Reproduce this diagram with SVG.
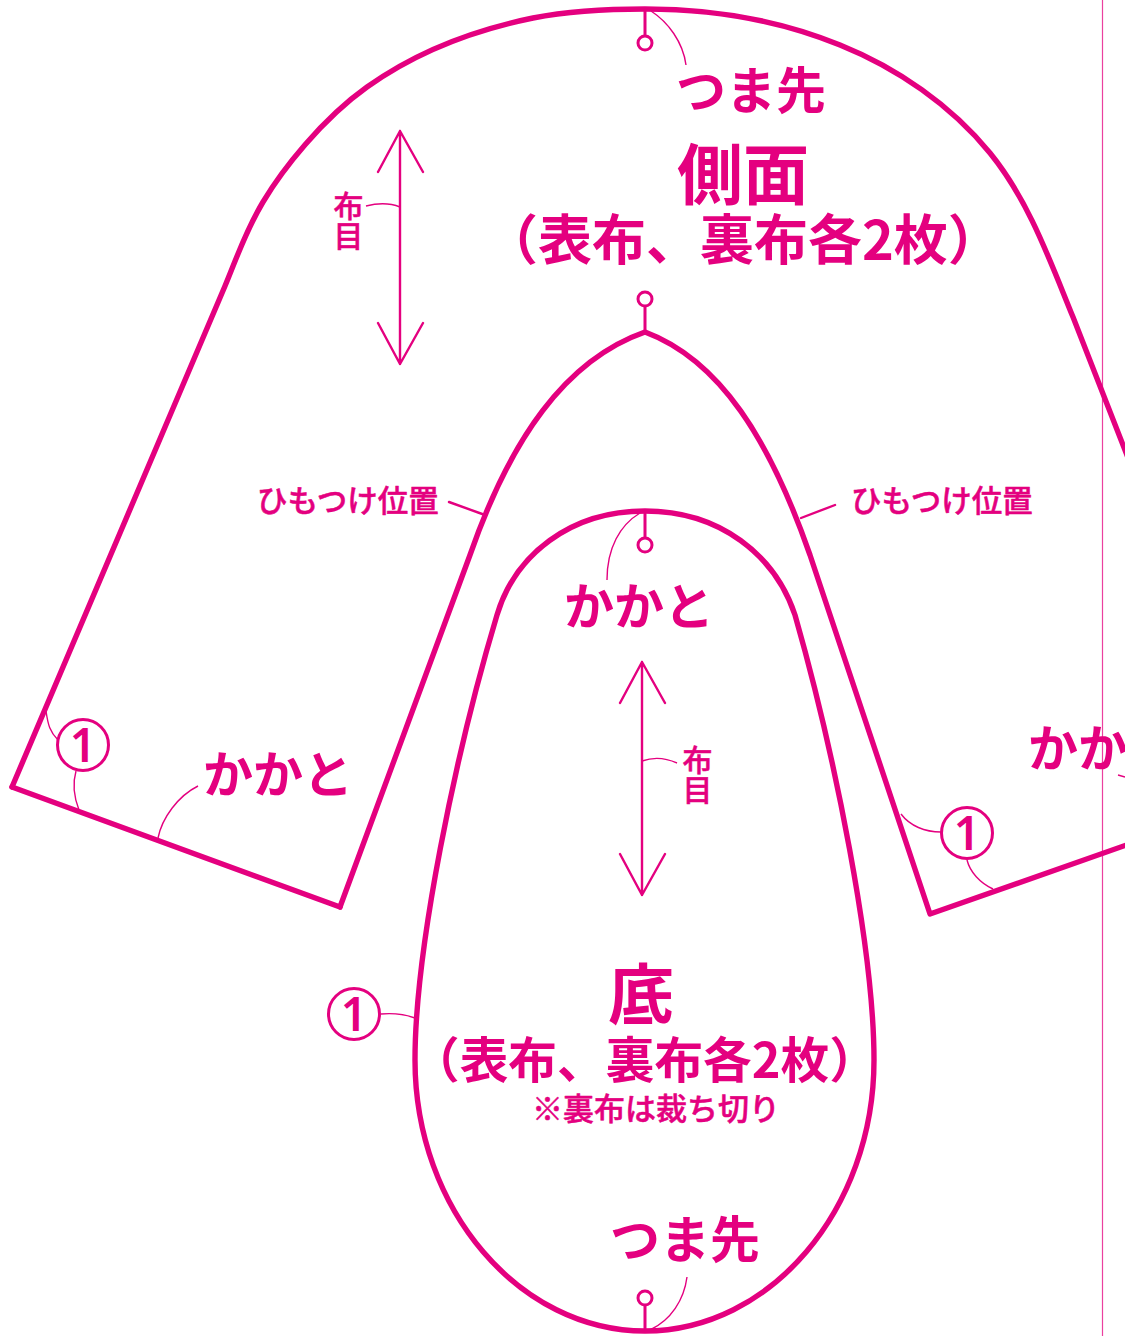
<svg xmlns="http://www.w3.org/2000/svg" width="1125" height="1336" viewBox="0 0 1125 1336">
<style>
.o{fill:none;stroke:#e4007f;stroke-width:5.4;stroke-linejoin:round;stroke-linecap:round}
.m{fill:none;stroke:#e4007f;stroke-width:3}
.a{fill:none;stroke:#e4007f;stroke-width:2.4;stroke-linecap:round;stroke-linejoin:round}
.l{fill:none;stroke:#e4007f;stroke-width:1.4}
.c{fill:#fff;stroke:#e4007f;stroke-width:3}
text{fill:#e4007f;font-family:"Noto Sans CJK JP","Noto Sans",sans-serif;font-weight:700}
.s{font-weight:500;stroke:#e4007f;stroke-width:.5;stroke-linejoin:round}
.n{font-family:"Noto Sans","Noto Sans CJK JP",sans-serif;font-size:46px;font-weight:600;text-anchor:middle}
</style>
<rect width="1125" height="1336" fill="#fff"/>
<g id="fold-line"><line x1="1102.5" y1="0" x2="1102.5" y2="1336" stroke="#e4007f" stroke-width="1.2" stroke-opacity=".75"/></g>
<g id="connectors">
<path class="m" d="M645 10V36M645 331V305M645 511V538M645 1331V1304"/>
<path class="l" d="M651 11C668 22 683 42 686 65"/>
<path class="l" d="M366 206C378 203 390 203 400 207"/>
<path class="l" d="M642 761C653 757 666 758 677 763"/>
<path class="l" d="M607 580C607 548 620 525 640 513"/>
<path class="l" d="M687 1277C684 1300 671 1320 650 1330"/>
<path class="a" d="M449 502L485 515M835 505L801 518"/>
<path class="l" d="M46 711C48 725 50 732 58 740"/>
<path class="l" d="M76 771C72 785 74 797 79 810"/>
<path class="l" d="M198 786C178 796 162 818 158 838"/>
<path class="l" d="M901 814C910 826 925 832 941 832"/>
<path class="l" d="M967 860C970 872 980 883 993 889"/>
<path class="l" d="M1118 775L1125 777"/>
<path class="l" d="M381 1014C392 1013 404 1014 415 1018"/>
<path class="a" d="M400 131V364M378 172L400 131L423 172M378 323L400 364L423 323"/>
<path class="a" d="M642 662V895M620 703L642 662L665 703M620 854L642 895L665 854"/>
</g>
<g id="side-panel">
<path class="o" d="M12 787L225 286C236 260 245 232 263 202C282 170 322 119 367 87C416 52 474 30 533 18C569 11 608 9 645 9C711 9 779 20 840 45C897 68 951 105 990 153C1029 201 1050 261 1073 317L1132 468"/>
<path class="o" d="M340 907L470 555C510 440 565 360 645 332C720 360 770 440 810 555C850 675 890 795 930 914L1135 842"/>
<path class="o" d="M12 787L340 907"/>
<circle class="c" cx="645" cy="43" r="7"/>
<circle class="c" cx="645" cy="299" r="7"/>
<text x="676" y="109" font-size="50">つま先</text>
<text x="677" y="199" font-size="66">側面</text>
<text x="484" y="260" font-size="54">（表布、裏布各2枚）</text>
<text class="s" x="348.500" y="191" font-size="30" writing-mode="vertical-rl">布目</text>
<text class="s" x="257" y="512" font-size="30.500">ひもつけ位置</text>
<text class="s" x="851" y="512" font-size="30.500">ひもつけ位置</text>
<text x="203" y="793" font-size="50">かかと</text>
<text x="1028" y="767" font-size="50">かかと</text>
</g>
<g id="sole-panel">
<path class="o" d="M645 511C720 511 775 555 795 615C835 755 874 950 874 1060C874 1210 770 1331 645 1331C520 1331 415 1210 415 1060C415 950 455 755 497 615C515 555 570 511 645 511Z"/>
<circle class="c" cx="645" cy="545" r="7"/>
<circle class="c" cx="645" cy="1298" r="7"/>
<text x="564" y="625" font-size="50">かかと</text>
<text class="s" x="697.500" y="745" font-size="30" writing-mode="vertical-rl">布目</text>
<text x="608" y="1019" font-size="66">底</text>
<text x="411" y="1078" font-size="48.700">（表布、裏布各2枚）</text>
<text class="s" x="532" y="1120" font-size="31">※裏布は裁ち切り</text>
<text x="610" y="1258" font-size="50">つま先</text>
</g>
<g id="mark-1-left"><circle class="c" cx="83" cy="745" r="25.500"/><text class="n" x="83" y="762">1</text></g>
<g id="mark-1-right"><circle class="c" cx="967" cy="833" r="25.500"/><text class="n" x="967" y="850">1</text></g>
<g id="mark-1-sole"><circle class="c" cx="354" cy="1014" r="25.500"/><text class="n" x="354" y="1031">1</text></g>
</svg>
